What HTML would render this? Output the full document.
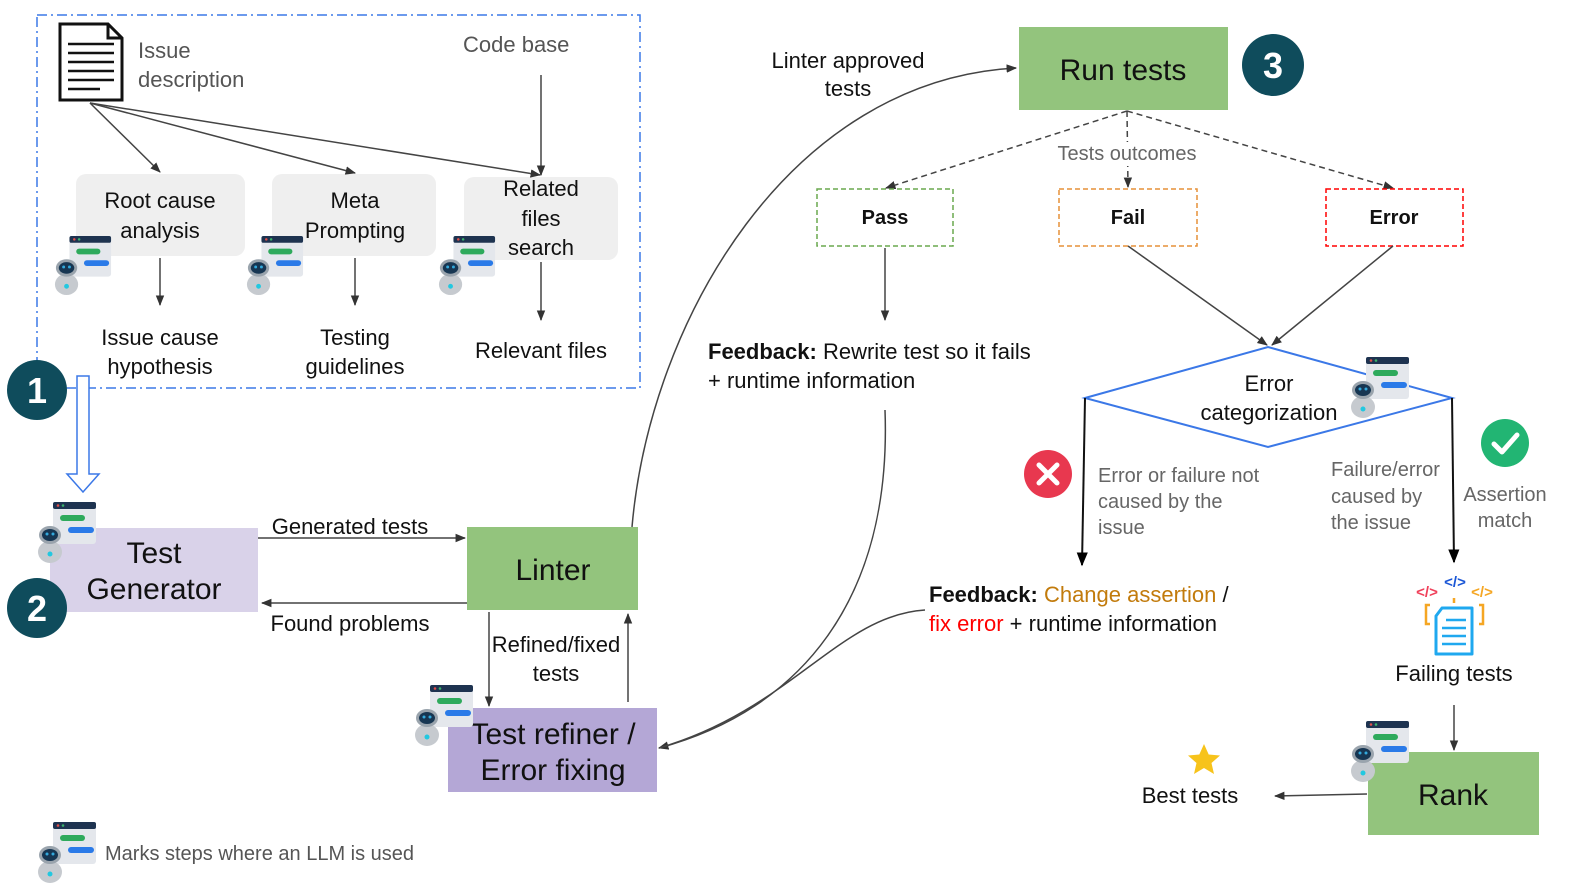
<!DOCTYPE html>
<html><head><meta charset="utf-8"><style>
html,body{margin:0;padding:0;background:#fff}
svg{display:block}
text{font-family:"Liberation Sans",Arial,sans-serif}
</style></head><body>
<svg width="1578" height="888" viewBox="0 0 1578 888" xmlns="http://www.w3.org/2000/svg">
<defs>
<marker id="ah" viewBox="0 0 10 10" refX="9" refY="5" markerWidth="7" markerHeight="7" orient="auto-start-reverse"><path d="M0,1 L10,5 L0,9 z" fill="#333"/></marker>
<marker id="ahk" viewBox="0 0 10 10" refX="9" refY="5" markerWidth="7" markerHeight="7" orient="auto"><path d="M0,1 L10,5 L0,9 z" fill="#000"/></marker>
<symbol id="bot" viewBox="0 0 62 62">
<rect x="17" y="0" width="43" height="42" rx="3" fill="#e4e7ec"/>
<rect x="17" y="0" width="43" height="7" rx="2" fill="#1e3350"/>
<circle cx="22" cy="3.5" r="1.3" fill="#e0504a"/><circle cx="27" cy="3.5" r="1.3" fill="#3bb36a"/>
<rect x="24" y="13" width="25" height="6" rx="3" fill="#2eaa5c"/>
<rect x="32" y="25" width="26" height="6" rx="3" fill="#2a7ae8"/>
<ellipse cx="14" cy="50" rx="12" ry="11" fill="#c6cacf"/>
<circle cx="14" cy="52" r="2.5" fill="#22c8e0"/>
<ellipse cx="14" cy="33" rx="11" ry="9" fill="#9aa4ad"/>
<ellipse cx="14" cy="33" rx="8" ry="6" fill="#173652"/>
<circle cx="11" cy="32" r="1.5" fill="#3ad"/><circle cx="17" cy="32" r="1.5" fill="#3ad"/>
</symbol>
</defs>

<!-- dashed box -->
<rect x="37" y="15" width="603" height="373" fill="none" stroke="#3b78e7" stroke-width="1.5" stroke-dasharray="10,4,2,4"/>
<!-- doc icon -->
<path d="M60,24 L108,24 L122,38 L122,100 L60,100 Z" fill="#fff" stroke="#111" stroke-width="3"/>
<path d="M108,24 L108,38 L122,38" fill="none" stroke="#111" stroke-width="3"/>
<g stroke="#111" stroke-width="2.5"><line x1="68" y1="44" x2="114" y2="44"/><line x1="68" y1="53" x2="114" y2="53"/><line x1="68" y1="62" x2="114" y2="62"/><line x1="68" y1="71" x2="114" y2="71"/><line x1="68" y1="80" x2="114" y2="80"/><line x1="68" y1="89" x2="100" y2="89"/></g>
<g fill="#555" font-size="22"><text x="138" y="58">Issue</text><text x="138" y="87">description</text><text x="463" y="52">Code base</text></g>

<g fill="#efefef"><rect x="76" y="174" width="169" height="82" rx="10"/><rect x="272" y="174" width="164" height="82" rx="10"/><rect x="464" y="177" width="154" height="83" rx="10"/></g>
<g font-size="22" fill="#111" text-anchor="middle">
<text x="160" y="208">Root cause</text><text x="160" y="238">analysis</text>
<text x="355" y="208">Meta</text><text x="355" y="238">Prompting</text>
<text x="541" y="196">Related</text><text x="541" y="226">files</text><text x="541" y="255">search</text>
<text x="160" y="345">Issue cause</text><text x="160" y="374">hypothesis</text>
<text x="355" y="345">Testing</text><text x="355" y="374">guidelines</text>
<text x="541" y="358">Relevant files</text>
</g>
<g stroke="#444" stroke-width="1.5" marker-end="url(#ah)" fill="none">
<line x1="90" y1="103" x2="160" y2="172"/><line x1="90" y1="103" x2="355" y2="173"/><line x1="90" y1="103" x2="540" y2="175"/>
<line x1="541" y1="75" x2="541" y2="175"/>
<line x1="160" y1="258" x2="160" y2="305"/><line x1="355" y1="258" x2="355" y2="305"/><line x1="541" y1="262" x2="541" y2="320"/>
</g>
<use href="#bot" x="53" y="236" width="60" height="60"/>
<use href="#bot" x="245" y="236" width="60" height="60"/>
<use href="#bot" x="437" y="236" width="60" height="60"/>

<!-- badge 1 -->
<circle cx="37" cy="390" r="30" fill="#0f4c5c"/><text x="37" y="403" fill="#fff" font-size="36" font-weight="bold" text-anchor="middle">1</text>
<path d="M77,376 L89,376 L89,474 L99,474 L83,492 L67,474 L77,474 Z" fill="#fff" stroke="#3b78e7" stroke-width="1.5"/>

<!-- Test generator -->
<rect x="50" y="528" width="208" height="84" fill="#d9d2e9"/>
<g font-size="30" text-anchor="middle" fill="#111"><text x="154" y="563">Test</text><text x="154" y="599">Generator</text></g>
<use href="#bot" x="36" y="502" width="62" height="62"/>
<circle cx="37" cy="608" r="30" fill="#0f4c5c"/><text x="37" y="621" fill="#fff" font-size="36" font-weight="bold" text-anchor="middle">2</text>

<!-- Linter -->
<rect x="467" y="527" width="171" height="83" fill="#93c47d"/>
<text x="553" y="580" font-size="30" text-anchor="middle" fill="#111">Linter</text>
<g stroke="#444" stroke-width="1.5" marker-end="url(#ah)" fill="none">
<line x1="258" y1="538" x2="465" y2="538"/><line x1="467" y1="603" x2="262" y2="603"/>
<line x1="489" y1="612" x2="489" y2="706"/><line x1="628" y1="702" x2="628" y2="614"/>
</g>
<g font-size="22" fill="#111" text-anchor="middle">
<text x="350" y="534">Generated tests</text><text x="350" y="631">Found problems</text>
<text x="556" y="652">Refined/fixed</text><text x="556" y="681">tests</text>
</g>

<!-- refiner -->
<rect x="448" y="708" width="209" height="84" fill="#b4a7d6"/>
<g font-size="30" text-anchor="middle" fill="#111"><text x="553" y="744">Test refiner /</text><text x="553" y="780">Error fixing</text></g>
<use href="#bot" x="413" y="685" width="62" height="62"/>

<!-- curve to run tests -->
<path d="M632,527 C650,320 790,80 1016,68" fill="none" stroke="#444" stroke-width="1.5" marker-end="url(#ah)"/>
<g font-size="22" fill="#111" text-anchor="middle"><text x="848" y="68">Linter approved</text><text x="848" y="96">tests</text></g>

<!-- run tests -->
<rect x="1019" y="27" width="209" height="83" fill="#93c47d"/>
<text x="1123" y="80" font-size="30" text-anchor="middle" fill="#111">Run tests</text>
<circle cx="1273" cy="65" r="31" fill="#0f4c5c"/><text x="1273" y="78" fill="#fff" font-size="36" font-weight="bold" text-anchor="middle">3</text>

<g stroke="#444" stroke-width="1.5" stroke-dasharray="6,4" marker-end="url(#ah)" fill="none">
<line x1="1127" y1="111" x2="886" y2="188"/><line x1="1127" y1="111" x2="1128" y2="187"/><line x1="1127" y1="111" x2="1393" y2="188"/>
</g>
<rect x="1040" y="142" width="170" height="24" fill="#fff"/>
<text x="1127" y="160" font-size="20" fill="#666" text-anchor="middle">Tests outcomes</text>

<rect x="817" y="189" width="136" height="57" fill="#fff" stroke="#6aa84f" stroke-width="1.5" stroke-dasharray="5,3"/>
<rect x="1059" y="189" width="138" height="57" fill="#fff" stroke="#e69138" stroke-width="1.5" stroke-dasharray="5,3"/>
<rect x="1326" y="189" width="137" height="57" fill="#fff" stroke="#ff0000" stroke-width="1.5" stroke-dasharray="5,3"/>
<g font-size="20" font-weight="bold" text-anchor="middle" fill="#111">
<text x="885" y="224">Pass</text><text x="1128" y="224">Fail</text><text x="1394" y="224">Error</text></g>

<g stroke="#444" stroke-width="1.5" marker-end="url(#ah)" fill="none">
<line x1="885" y1="248" x2="885" y2="320"/>
<line x1="1128" y1="246" x2="1267" y2="345"/><line x1="1393" y1="246" x2="1272" y2="345"/>
<line x1="1454" y1="705" x2="1454" y2="750"/><line x1="1367" y1="794" x2="1275" y2="796"/>
</g>
<text x="708" y="359" font-size="22" fill="#111"><tspan font-weight="bold">Feedback:</tspan> Rewrite test so it fails</text>
<text x="708" y="388" font-size="22" fill="#111">+ runtime information</text>

<path d="M885,410 C892,600 800,710 659,748" fill="none" stroke="#444" stroke-width="1.5" marker-end="url(#ah)"/>
<path d="M925,610 C840,615 790,710 659,748" fill="none" stroke="#444" stroke-width="1.5"/>

<!-- diamond -->
<polygon points="1085,398 1268,347 1452,398 1268,447" fill="#fff" stroke="#3b78e7" stroke-width="2"/>
<g font-size="22" fill="#111" text-anchor="middle"><text x="1269" y="391">Error</text><text x="1269" y="420">categorization</text></g>
<use href="#bot" x="1349" y="357" width="62" height="62"/>
<g stroke="#111" stroke-width="2" marker-end="url(#ahk)" fill="none">
<line x1="1085" y1="398" x2="1082" y2="565"/><line x1="1452" y1="398" x2="1454" y2="562"/>
</g>
<circle cx="1048" cy="474" r="24" fill="#e8384f"/>
<path d="M1039,465 L1057,483 M1057,465 L1039,483" stroke="#fff" stroke-width="5" stroke-linecap="round"/>
<circle cx="1505" cy="443" r="24" fill="#22b573"/>
<path d="M1494,444 L1502,452 L1517,435" stroke="#fff" stroke-width="5" fill="none" stroke-linecap="round" stroke-linejoin="round"/>
<g font-size="20" fill="#666">
<text x="1098" y="482">Error or failure not</text><text x="1098" y="508">caused by the</text><text x="1098" y="534">issue</text>
<text x="1331" y="476">Failure/error</text><text x="1331" y="503">caused by</text><text x="1331" y="529">the issue</text>
</g>
<g font-size="20" fill="#666" text-anchor="middle"><text x="1505" y="501">Assertion</text><text x="1505" y="527">match</text></g>

<text x="929" y="602" font-size="22" fill="#111"><tspan font-weight="bold">Feedback:</tspan> <tspan fill="#c27b0c">Change assertion</tspan> /</text>
<text x="929" y="631" font-size="22" fill="#111"><tspan fill="#ff0000">fix error</tspan> + runtime information</text>

<!-- failing tests icon -->
<g font-size="15" font-weight="bold" text-anchor="middle" font-family="Liberation Mono,monospace">
<text x="1427" y="597" fill="#f0405a">&lt;/&gt;</text><text x="1455" y="587" fill="#1a56d6">&lt;/&gt;</text><text x="1482" y="597" fill="#f5a623">&lt;/&gt;</text></g>
<path d="M1430,605 L1426,605 L1426,624 L1430,624 M1479,605 L1483,605 L1483,624 L1479,624 M1454,598 L1454,603" stroke="#f5a623" stroke-width="2.5" fill="none"/>
<path d="M1442,608 L1472,608 L1472,654 L1436,654 L1436,616 Z" fill="#fff" stroke="#1fa8ef" stroke-width="3" stroke-linejoin="round"/>
<g stroke="#1fa8ef" stroke-width="2.5"><line x1="1446" y1="620" x2="1466" y2="620"/><line x1="1442" y1="628" x2="1466" y2="628"/><line x1="1442" y1="636" x2="1466" y2="636"/><line x1="1442" y1="644" x2="1466" y2="644"/></g>
<text x="1454" y="681" font-size="22" fill="#111" text-anchor="middle">Failing tests</text>

<!-- rank -->
<rect x="1368" y="752" width="171" height="83" fill="#93c47d"/>
<text x="1453" y="805" font-size="30" text-anchor="middle" fill="#111">Rank</text>
<use href="#bot" x="1349" y="721" width="62" height="62"/>
<polygon points="1204,744 1208.7,754.5 1220,755.5 1211.5,763 1214,774 1204,768 1194,774 1196.5,763 1188,755.5 1199.3,754.5" fill="#f7c31b"/>
<text x="1190" y="803" font-size="22" fill="#111" text-anchor="middle">Best tests</text>

<!-- legend -->
<use href="#bot" x="36" y="822" width="62" height="62"/>
<text x="105" y="860" font-size="20" fill="#555">Marks steps where an LLM is used</text>
</svg>
</body></html>
